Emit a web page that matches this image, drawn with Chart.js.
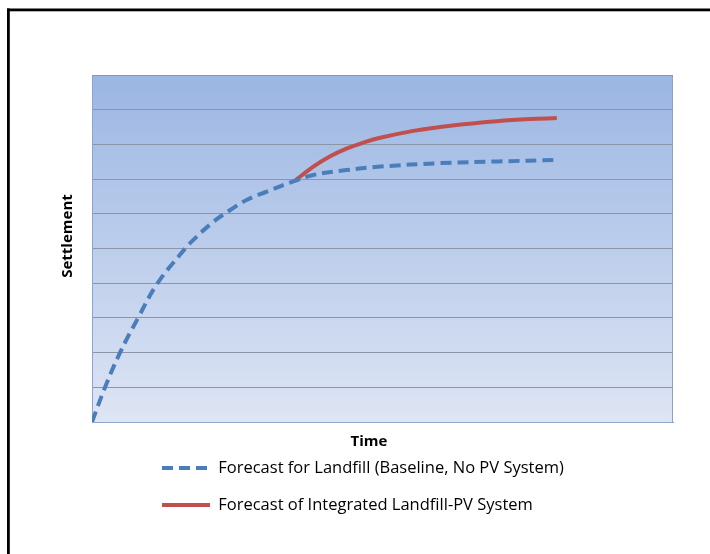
<!DOCTYPE html>
<html>
<head>
<meta charset="utf-8">
<script src="https://cdn.jsdelivr.net/npm/chart.js@4.4.1/dist/chart.umd.min.js"></script>
<style>
  html, body { margin: 0; padding: 0; background: #ffffff; }
  #wrap { position: relative; width: 710px; height: 554px; }
</style>
</head>
<body>
<div id="wrap"><canvas id="c"></canvas></div>
<script>
// ---- data ----
const seriesNames = ["Forecast for Landfill (Baseline, No PV System)", "Forecast of Integrated Landfill-PV System"];
const baseTime   = [0, 2.2, 4.8, 7.9, 11.2, 15.1, 17.4, 20.9, 23.8, 26.6, 30.1, 34.9, 38.1, 43.8, 49.6, 59.9, 70.0, 80.0];
const baseSettle = [0, 0.98, 1.99, 2.99, 3.98, 4.81, 5.24, 5.77, 6.11, 6.40, 6.64, 6.95, 7.12, 7.26, 7.36, 7.46, 7.51, 7.55];
const pvTime     = [34.9, 38.1, 41.0, 43.8, 46.7, 49.6, 55.3, 59.9, 63.9, 69.7, 75.4, 80.0];
const pvSettle   = [6.95, 7.36, 7.66, 7.88, 8.05, 8.19, 8.39, 8.50, 8.58, 8.67, 8.73, 8.76];
const xTitle = "Time";
const yTitle = "Settlement";

const toPoints = (xs, ys) => xs.map((x, i) => ({x: x, y: ys[i]}));

const bgPlugin = {
  id: 'plotBg',
  beforeDraw(chart) {
    const {ctx, chartArea: a} = chart;
    ctx.save();
    // outer frame (left and top edges)
    ctx.fillStyle = '#000000';
    ctx.fillRect(7, 8.5, 703, 2.8);
    ctx.fillRect(7, 8.5, 2.8, 546);
    // plot area gradient
    const g = ctx.createLinearGradient(0, a.top, 0, a.bottom);
    g.addColorStop(0, '#9bb6e3');
    g.addColorStop(1, '#dee5f4');
    ctx.fillStyle = g;
    ctx.fillRect(a.left, a.top, a.right - a.left, a.bottom - a.top);
    ctx.strokeStyle = '#8ea2c2';
    ctx.lineWidth = 1;
    ctx.strokeRect(a.left + 0.5, a.top + 0.5, a.right - a.left - 1, a.bottom - a.top);
    ctx.restore();
  },
  afterLayout(chart) {
    const lg = chart.legend;
    if (lg) {
      const pad = lg.options.labels.padding;
      const h = lg.height;
      lg.left = 162 - pad;
      lg.top = 468 - 8.25 - pad;
      lg.bottom = lg.top + h;
    }
  },
  afterDraw(chart) {
    const {ctx} = chart;
    ctx.save();
    ctx.fillStyle = '#000000';
    ctx.textAlign = 'center';
    ctx.textBaseline = 'middle';
    ctx.font = 'bold 15px "Open Sans"';
    ctx.fillText(xTitle, 369, 442);
    ctx.translate(68, 236);
    ctx.rotate(-Math.PI / 2);
    ctx.font = 'bold 15px "Open Sans"';
    ctx.fillText(yTitle, 0, 0);
    ctx.restore();
  }
};

new Chart(document.getElementById('c'), {
  type: 'line',
  data: {
    datasets: [
      {
        label: seriesNames[0],
        data: toPoints(baseTime, baseSettle),
        borderColor: '#4a7ebb',
        backgroundColor: 'rgba(0,0,0,0)',
        borderWidth: 4,
        borderDash: [11, 6],
        pointRadius: 0,
        tension: 0.4,
        fill: false
      },
      {
        label: seriesNames[1],
        data: toPoints(pvTime, pvSettle),
        borderColor: '#c0504d',
        backgroundColor: 'rgba(0,0,0,0)',
        borderWidth: 4,
        pointRadius: 0,
        tension: 0.4,
        fill: false
      }
    ]
  },
  options: {
    responsive: true,
    maintainAspectRatio: false,
    animation: false,
    layout: { padding: { top: 75, right: 37, left: 0, bottom: 18 } },
    plugins: {
      tooltip: { enabled: false },
      legend: {
        position: 'bottom',
        align: 'start',
        labels: {
          usePointStyle: false,
          boxWidth: 48,
          boxHeight: 0,
          padding: 20.5,
          color: '#000000',
          font: { family: '"Open Sans"', size: 16.5 }
        }
      }
    },
    scales: {
      x: {
        type: 'linear',
        min: 0,
        max: 100,
        ticks: { display: false },
        grid: { display: false, drawTicks: false },
        border: { display: true, color: '#8ea4c8', width: 1 },
        afterFit(scale) { scale.height = 30; }
      },
      y: {
        min: 0,
        max: 10,
        ticks: { display: false, stepSize: 1 },
        grid: { color: '#8a96a8', lineWidth: 1, drawTicks: false },
        border: { display: true, color: '#8aa5d3', width: 1 },
        afterFit(scale) { scale.width = 92; }
      }
    }
  },
  plugins: [bgPlugin]
});
</script>
</body>
</html>
